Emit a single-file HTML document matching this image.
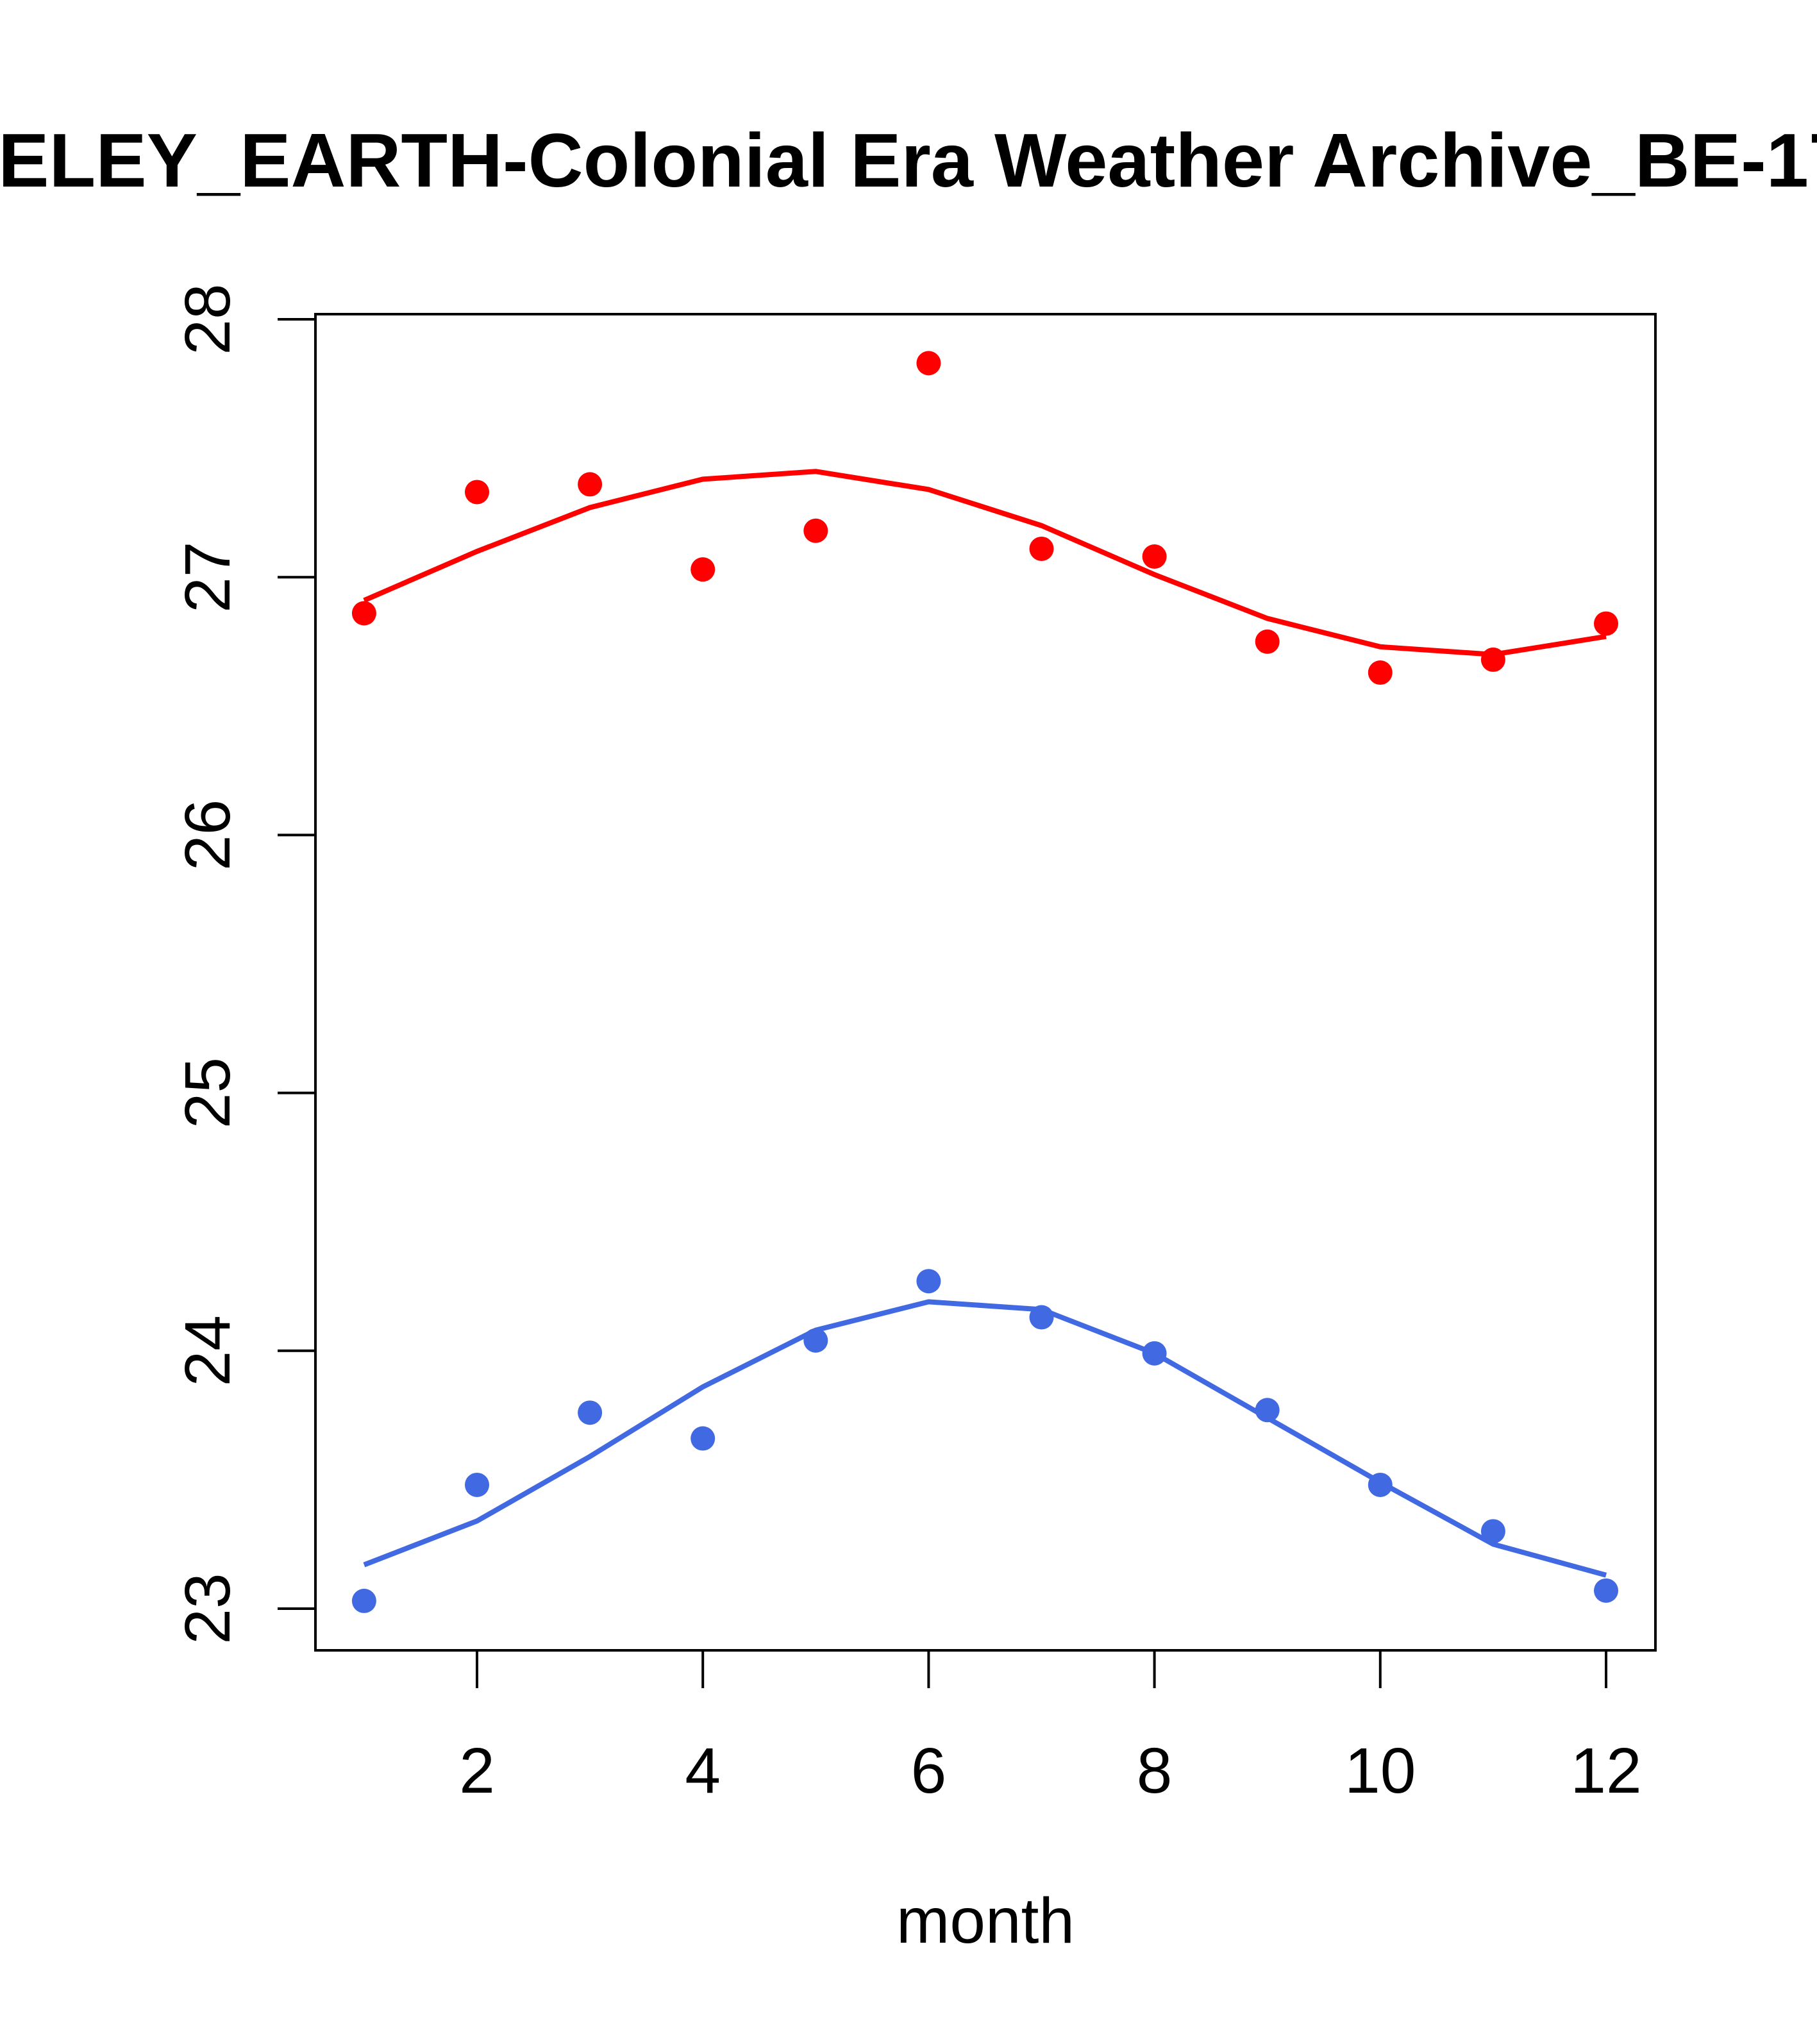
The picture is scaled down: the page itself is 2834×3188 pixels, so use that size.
<!DOCTYPE html>
<html><head><meta charset="utf-8"><style>html,body{margin:0;padding:0;background:#fff}svg{display:block}</style></head>
<body>
<svg id="chart" width="2834" height="3188" xmlns="http://www.w3.org/2000/svg" font-family="Liberation Sans, sans-serif">
<text x="-340" y="291" font-size="119" font-weight="bold">BERKELEY_EARTH-Colonial Era Weather Archive_BE-1747</text>
<rect x="492" y="490" width="2090" height="2084" fill="none" stroke="#000" stroke-width="4"/>
<g id="axes"></g>
<g id="series"></g>
<text x="1537" y="3030" font-size="100" text-anchor="middle">month</text>
</svg>
<script>
const months=[1,2,3,4,5,6,7,8,9,10,11,12];
const redPoints=[26.86,27.33,27.36,27.03,27.18,27.83,27.11,27.08,26.75,26.63,26.68,26.82];
const redLine=[26.91,27.10,27.27,27.38,27.41,27.34,27.20,27.01,26.84,26.73,26.70,26.77];
const bluePoints=[23.03,23.48,23.76,23.66,24.04,24.27,24.13,23.99,23.77,23.48,23.30,23.07];
const blueLine=[23.17,23.34,23.59,23.86,24.08,24.19,24.16,23.99,23.74,23.49,23.25,23.13];
const xTicks=[2,4,6,8,10,12];
const yTicks=[23,24,25,26,27,28];

const NS='http://www.w3.org/2000/svg';
const xs=m=>744+(m-2)*176.1;
const ys=v=>2509-(v-23)*402.2;
const axes=document.getElementById('axes'), series=document.getElementById('series');
function mk(tag,attrs,parent){const e=document.createElementNS(NS,tag);for(const k in attrs)e.setAttribute(k,attrs[k]);parent.appendChild(e);return e;}

xTicks.forEach(t=>{
  const l=mk('line',{x1:xs(t),x2:xs(t),y1:2574,y2:2633,stroke:'#000','stroke-width':4},axes);
  
  
  const tx=mk('text',{x:xs(t),y:2796,'font-size':100,'text-anchor':'middle'},axes);
  tx.textContent=t;
  
  
});
yTicks.forEach(t=>{
  const l=mk('line',{x1:433,x2:492,y1:ys(t),y2:ys(t),stroke:'#000','stroke-width':4},axes);
  
  
  const tx=mk('text',{x:0,y:0,'font-size':100,'text-anchor':'middle',transform:`translate(358,${ys(t)}) rotate(-90)`},axes);
  tx.textContent=t;
  
  
});

function drawSeries(pts,line,color,name){
  const p=mk('polyline',{points:line.map((v,i)=>xs(months[i])+','+ys(v)).join(' '),fill:'none',stroke:color,'stroke-width':8},series);
  
  
  pts.forEach((v,i)=>{
    const c=mk('circle',{cx:xs(months[i]),cy:ys(v),r:19,fill:color},series);
    
    
  });
}
drawSeries(redPoints,redLine,'#FF0000','red');
drawSeries(bluePoints,blueLine,'#4169E1','blue');
</script>
</body></html>
